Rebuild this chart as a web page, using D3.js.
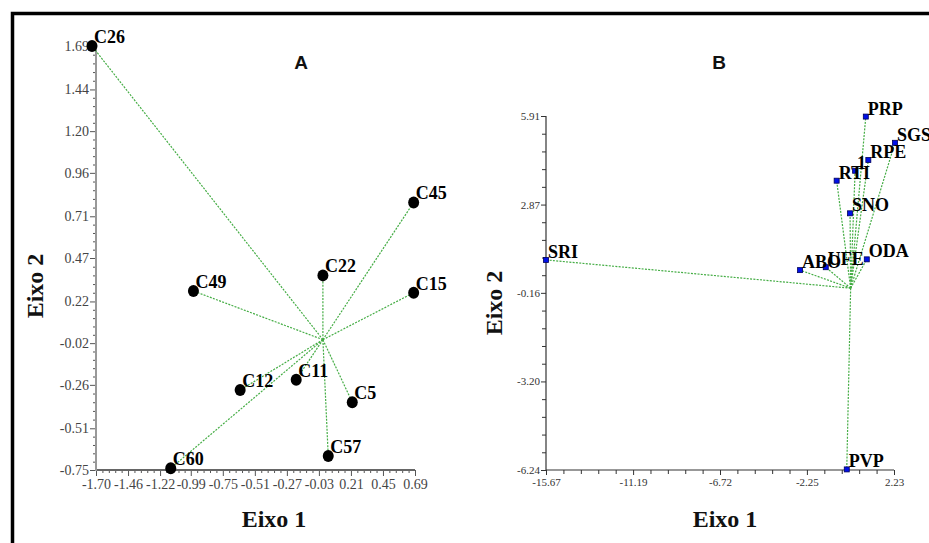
<!DOCTYPE html>
<html>
<head>
<meta charset="utf-8">
<script src="https://cdn.jsdelivr.net/npm/d3@7"></script>
<style>
  html, body { margin: 0; padding: 0; background: #fff; }
  svg { display: block; }
</style>
</head>
<body>
<svg id="chart" width="929" height="543"></svg>
<script>
// Panel A: accessions on the first two axes
const labelsA = ["C26", "C45", "C22", "C49", "C15", "C12", "C11", "C5", "C57", "C60"];
const eixo1A  = [-1.73, 0.68, 0.00, -0.97, 0.68, -0.62, -0.20, 0.22, 0.04, -1.14];
const eixo2A  = [1.69, 0.79, 0.37, 0.28, 0.27, -0.29, -0.23, -0.36, -0.67, -0.74];
const ticksAx = ["-1.70", "-1.46", "-1.22", "-0.99", "-0.75", "-0.51", "-0.27", "-0.03", "0.21", "0.45", "0.69"];
const ticksAy = ["-0.75", "-0.51", "-0.26", "-0.02", "0.22", "0.47", "0.71", "0.96", "1.20", "1.44", "1.69"];

// Panel B: descriptors on the first two axes
const labelsB = ["SRI", "ABO", "UFE", "ODA", "SNO", "RTI", "1", "RPE", "SGS", "PRP", "PVP"];
const eixo1B  = [-15.67, -2.60, -1.28, 0.83, -0.03, -0.72, 0.23, 0.91, 2.28, 0.78, -0.20];
const eixo2B  = [0.97, 0.62, 0.72, 0.99, 2.57, 3.69, 4.03, 4.40, 4.99, 5.89, -6.22];
const ticksBx = ["-15.67", "-11.19", "-6.72", "-2.25", "2.23"];
const ticksBy = ["-6.24", "-3.20", "-0.16", "2.87", "5.91"];

const svg = d3.select("#chart");
const serif = "'Liberation Serif', 'Times New Roman', serif";
const sans = "'Liberation Sans', Arial, sans-serif";
const vecColor = "#45ad45";

// outer frame
svg.append("rect")
  .attr("x", 12.5).attr("y", 13.5)
  .attr("width", 940).attr("height", 560)
  .attr("fill", "none").attr("stroke", "#000").attr("stroke-width", 3.5);

function minorTicks(vals, n) {
  const out = [];
  for (let i = 0; i < vals.length - 1; i++) {
    const a = vals[i], b = vals[i + 1];
    for (let k = 1; k <= n; k++) out.push(a + (b - a) * k / (n + 1));
  }
  return out;
}

function panel(cfg) {
  const g = svg.append("g");
  const xv = cfg.ticksX.map(Number), yv = cfg.ticksY.map(Number);
  const x = d3.scaleLinear().domain([xv[0], xv[xv.length - 1]]).range(cfg.xr);
  const y = d3.scaleLinear().domain([yv[0], yv[yv.length - 1]]).range(cfg.yr);
  const y0 = cfg.yr[0], x0 = cfg.xr[0];

  // minor ticks
  g.append("g").attr("transform", `translate(0,${y0})`)
    .call(d3.axisBottom(x).tickValues(minorTicks(xv, 4)).tickSize(cfg.minorSize).tickFormat(""))
    .call(s => s.select(".domain").remove())
    .call(s => s.selectAll("line").attr("stroke", cfg.tickColor));
  g.append("g").attr("transform", `translate(${x0},0)`)
    .call(d3.axisLeft(y).tickValues(minorTicks(yv, 4)).tickSize(cfg.minorSize).tickFormat(""))
    .call(s => s.select(".domain").remove())
    .call(s => s.selectAll("line").attr("stroke", cfg.tickColor));

  // major ticks and labels
  const ax = g.append("g").attr("transform", `translate(0,${y0})`)
    .call(d3.axisBottom(x).tickValues(xv).tickSize(cfg.majorSize).tickPadding(3)
      .tickFormat((d, i) => cfg.ticksX[i]));
  const ay = g.append("g").attr("transform", `translate(${x0},0)`)
    .call(d3.axisLeft(y).tickValues(yv).tickSize(cfg.majorSize).tickPadding(1)
      .tickFormat((d, i) => cfg.ticksY[i]));
  [ax, ay].forEach(a => {
    a.select(".domain").remove();
    a.selectAll("line").attr("stroke", cfg.tickColor);
    a.selectAll("text").attr("font-family", serif).attr("font-size", cfg.tickFont)
      .attr("fill", cfg.tickText);
  });

  // axis lines
  g.append("line").attr("x1", x0).attr("x2", cfg.xr[1]).attr("y1", y0).attr("y2", y0)
    .attr("stroke", cfg.xAxisColor).attr("stroke-width", cfg.axisWidth);
  g.append("line").attr("x1", x0).attr("x2", x0).attr("y1", cfg.yr[1]).attr("y2", y0 + 1)
    .attr("stroke", cfg.yAxisColor).attr("stroke-width", cfg.axisWidth);

  // vectors from the origin
  g.append("g").selectAll("line").data(cfg.labels).join("line")
    .attr("x1", x(0)).attr("y1", y(0))
    .attr("x2", (d, i) => x(cfg.ex[i])).attr("y2", (d, i) => y(cfg.ey[i]))
    .attr("stroke", vecColor).attr("stroke-width", 1.2).attr("stroke-dasharray", "2,1.3");

  // markers
  if (cfg.marker === "dot") {
    g.append("g").selectAll("ellipse").data(cfg.labels).join("ellipse")
      .attr("cx", (d, i) => x(cfg.ex[i])).attr("cy", (d, i) => y(cfg.ey[i]))
      .attr("rx", 5.5).attr("ry", 6).attr("fill", "#000");
  } else {
    g.append("g").selectAll("rect").data(cfg.labels).join("rect")
      .attr("x", (d, i) => x(cfg.ex[i]) - 2.5).attr("y", (d, i) => y(cfg.ey[i]) - 2.5)
      .attr("width", 5).attr("height", 5)
      .attr("fill", "#0010e8").attr("stroke", "#00005a").attr("stroke-width", 0.8);
  }

  // point labels
  g.append("g").selectAll("text").data(cfg.labels).join("text")
    .attr("x", (d, i) => x(cfg.ex[i]) + 2).attr("y", (d, i) => y(cfg.ey[i]) + cfg.labelDy)
    .attr("font-family", serif).attr("font-weight", "bold").attr("font-size", cfg.labelFont)
    .attr("fill", "#000").text(d => d);

  // panel letter
  g.append("text").attr("x", cfg.titleX).attr("y", 69).attr("text-anchor", "middle")
    .attr("font-family", sans).attr("font-weight", "bold").attr("font-size", 19)
    .attr("fill", "#111").text(cfg.title);

  // axis titles
  g.append("text").attr("x", cfg.xTitleX).attr("y", 527).attr("text-anchor", "middle")
    .attr("font-family", serif).attr("font-weight", "bold").attr("font-size", 24)
    .attr("fill", "#111").text("Eixo 1");
  g.append("text").attr("transform", `translate(${cfg.yTitleX},${cfg.yTitleY}) rotate(-90)`)
    .attr("text-anchor", "middle")
    .attr("font-family", serif).attr("font-weight", "bold").attr("font-size", 24)
    .attr("fill", "#111").text("Eixo 2");
}

panel({
  labels: labelsA, ex: eixo1A, ey: eixo2A, ticksX: ticksAx, ticksY: ticksAy,
  xr: [96, 415], yr: [470, 46], marker: "dot", labelDy: -3, labelFont: 18,
  tickFont: 14, tickText: "#444", tickColor: "#555", majorSize: 6, minorSize: 3,
  xAxisColor: "#666", yAxisColor: "#999", axisWidth: 2,
  title: "A", titleX: 301, xTitleX: 274, yTitleX: 43, yTitleY: 286
});

panel({
  labels: labelsB, ex: eixo1B, ey: eixo2B, ticksX: ticksBx, ticksY: ticksBy,
  xr: [546, 894], yr: [470, 116], marker: "square", labelDy: -2, labelFont: 18,
  tickFont: 11, tickText: "#333", tickColor: "#333", majorSize: 5, minorSize: 4,
  xAxisColor: "#333", yAxisColor: "#333", axisWidth: 1.2,
  title: "B", titleX: 719, xTitleX: 725, yTitleX: 502, yTitleY: 303
});
</script>
</body>
</html>
